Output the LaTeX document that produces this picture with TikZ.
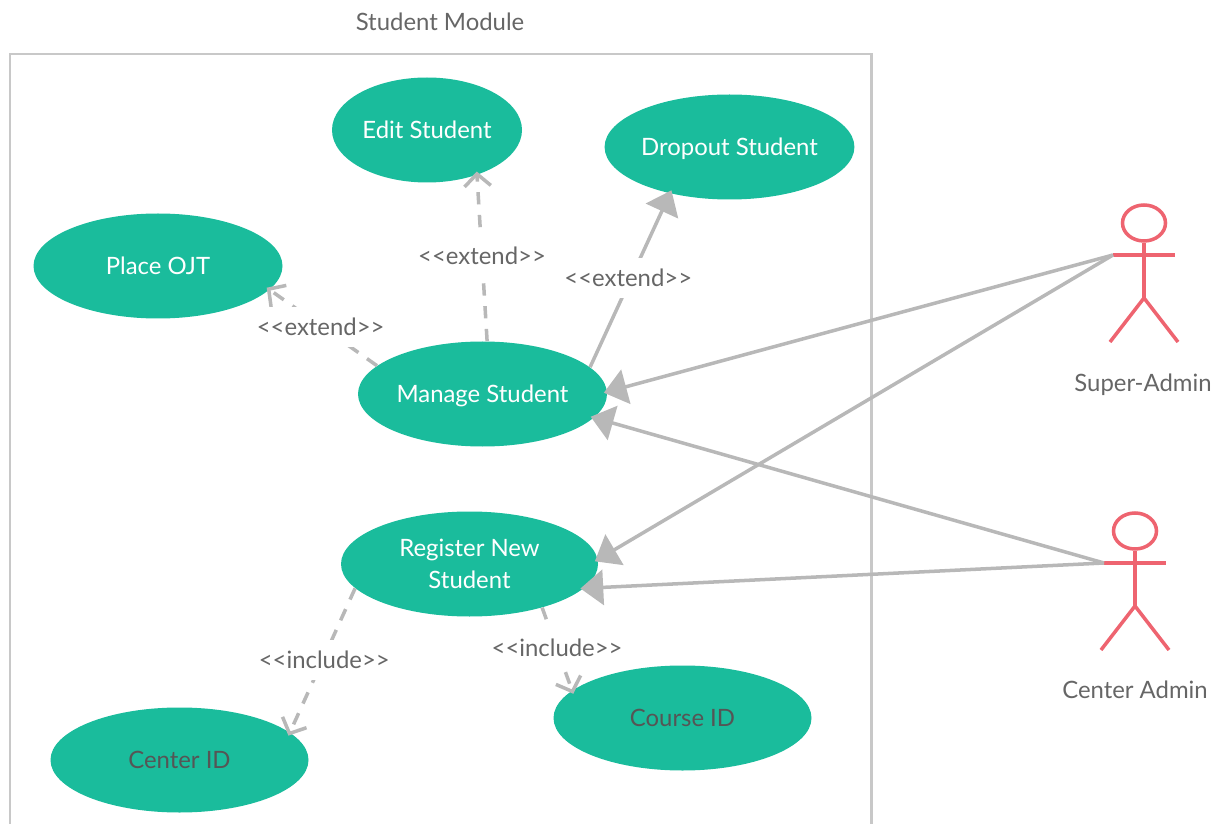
\documentclass[tikz,border=0pt]{standalone}
\usepackage{fontspec}
\setmainfont{Lato}
\usetikzlibrary{arrows.meta,shapes.geometric}
\definecolor{usecase}{HTML}{1ABC9C}
\definecolor{actorred}{HTML}{EE6470}
\definecolor{linegray}{HTML}{B8B8B8}
\definecolor{framegray}{HTML}{C8C8C8}
\definecolor{textgray}{HTML}{666666}
\definecolor{darktext}{HTML}{555555}
\tikzset{
  usecasenode/.style={ellipse,fill=usecase,text=white,inner sep=0pt,text depth=0pt,minimum height=105*0.02cm,align=center},
  darkcase/.style={text=darktext},
  plaintext/.style={text=textgray,text depth=0pt},
  assoc/.style={linegray,line width=2pt,shorten >=-2pt,-{Triangle[length=13pt,width=20pt]}},
  dep/.style={linegray,line width=2pt,shorten >=-2pt,dash pattern=on 7pt off 6pt,-{Straight Barb[length=7pt,width=15pt]}},
  extlabel/.style={midway,fill=white,text=textgray,inner xsep=1pt,inner ysep=0pt,text depth=0pt,minimum height=40*0.02cm,yshift=1pt}
}

\begin{document}
\begin{tikzpicture}[x=0.02cm,y=-0.02cm,font=\fontsize{13.6}{18}\selectfont]
\useasboundingbox (0,0) rectangle (1221,824);

\draw[framegray, line width=1.7pt] (10,824) -- (10,54) -- (871,54) -- (871,824);
\node[plaintext] (title) at (440,22) {Student Module};

\node[usecasenode,minimum width=190*0.02cm] (edit) at (427,130) {Edit Student};
\node[usecasenode,minimum width=249*0.02cm] (dropout) at (729.5,147) {Dropout Student};
\node[usecasenode,minimum width=249*0.02cm] (place) at (158,266) {Place OJT};
\node[usecasenode,minimum width=249*0.02cm] (manage) at (482.5,394) {Manage Student};
\node[usecasenode,minimum width=257*0.02cm] (register) at (469.5,564) {Register New\\Student};
\node[usecasenode,darkcase,minimum width=258*0.02cm] (centerid) at (179.5,760) {Center ID};
\node[usecasenode,darkcase,minimum width=258*0.02cm] (courseid) at (682.5,718) {Course ID};

% actors
\foreach \n/\x/\y in {super/0/0,center/-9/308}
{
  \node[ellipse,draw=actorred,line width=2pt,inner sep=0pt,minimum width=43*0.02cm,minimum height=36*0.02cm] (\n head) at (1144+\x,223+\y) {};
  \coordinate (\n hand) at (1113+\x,255+\y);
  \coordinate (\n arm) at (1175+\x,255+\y);
  \coordinate (\n hip) at (1144+\x,298+\y);
  \coordinate (\n lfoot) at (1110+\x,342+\y);
  \coordinate (\n rfoot) at (1178+\x,342+\y);
  \draw[actorred,line width=2pt] (\n hand) -- (\n arm);
  \draw[actorred,line width=2pt] (\n head) -- (\n hip);
  \draw[actorred,line width=2pt] (\n lfoot) -- (\n hip) -- (\n rfoot);
}
\node[plaintext] (superlabel) at (1143,383) {Super-Admin};
\node[plaintext] (centerlabel) at (1135,690) {Center Admin};

\draw[dep] (manage.85.7) -- node[extlabel,yshift=.5pt] {<{}<extend>{}>} (edit.-42);
\draw[assoc] (manage.14.5) -- node[extlabel,xshift=-1pt,yshift=.5pt] {<{}<extend>{}>} (dropout.-142.3);
\draw[dep] (manage.165.7) -- node[extlabel,xshift=-1.5pt,yshift=-.5pt] {<{}<extend>{}>} (place.-12.8);
\draw[dep] (register.192.2) -- node[extlabel,xshift=1pt,yshift=-.5pt] {<{}<include>{}>} (centerid.14.4);
\draw[dep] (register.-31) -- node[extlabel] {<{}<include>{}>} (courseid.166.7);

\draw[assoc] (superhand) -- (manage.1);
\draw[assoc] (superhand) -- (register.2);
\draw[assoc] (centerhand) -- (manage.-12.8);
\draw[assoc] (centerhand) -- (register.-12.3);
\end{tikzpicture}
\end{document}
